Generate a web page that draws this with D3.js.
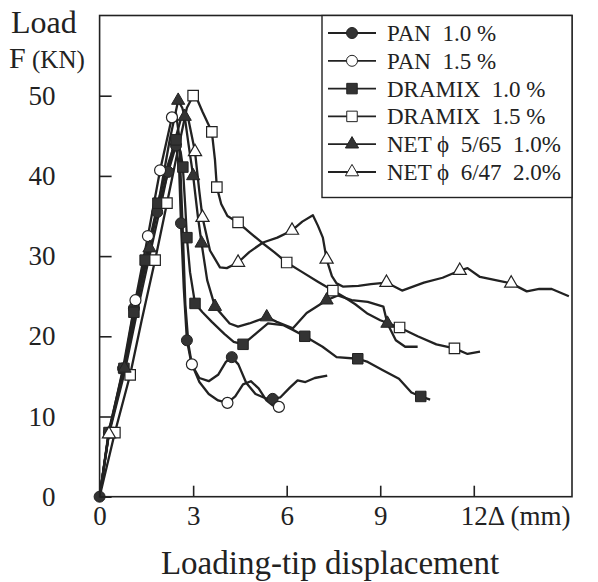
<!DOCTYPE html>
<html><head><meta charset="utf-8">
<script src="https://cdn.jsdelivr.net/npm/d3@7"></script>
<style>body{margin:0;background:#fff}svg text{font-family:"Liberation Serif","DejaVu Serif",serif;fill:#222;white-space:pre}</style>
</head><body><svg id="c" width="598" height="582"></svg>
<script>
const xTicks=[0,3,6,9,12];
const yTicks=[0,10,20,30,40,50];
const seriesNames=["PAN  1.0 %","PAN  1.5 %","DRAMIX  1.0 %","DRAMIX  1.5 %","NET ϕ  5/65  1.0%","NET ϕ  6/47  2.0%"];
const pan10=[[0,0],[0.3,8],[0.75,16],[1.1,23.5],[1.5,29.6],[1.85,35.5],[2.2,40.5],[2.45,43.8],[2.55,41],[2.61,34.1],[2.7,26],[2.8,19.5],[2.95,16.5],[3.2,14.8],[3.5,14.4],[3.8,15.2],[4.05,16.8],[4.24,17.4],[4.45,16.5],[4.7,14.2],[5.0,12.8],[5.3,12.3],[5.55,12.2],[5.8,12.4],[6.1,13.6],[6.35,14.5],[6.6,14.3],[6.9,14.8],[7.3,15.1]];
const pan10Marks=[[0,0],[0.3,8],[0.75,16],[1.1,23.5],[1.5,29.6],[1.85,35.5],[2.2,40.5],[2.45,43.8],[2.61,34.1],[2.8,19.5],[4.24,17.4],[5.55,12.2]];
const pan15=[[0,0],[0.3,8.3],[0.8,16.5],[1.15,24.5],[1.55,32.5],[1.94,40.7],[2.32,47.3],[2.45,47.8],[2.55,45],[2.65,35],[2.75,24],[2.85,19],[2.96,16.5],[3.2,14.3],[3.5,12.8],[3.8,12],[4.1,11.7],[4.35,12.5],[4.6,14],[4.85,14.4],[5.1,13.5],[5.35,12],[5.55,11.4],[5.75,11.2]];
const pan15Marks=[[1.15,24.5],[1.55,32.5],[1.94,40.7],[2.32,47.3],[2.96,16.5],[4.1,11.7],[5.75,11.2]];
const dramix10=[[0,0],[0.3,8],[0.78,16],[1.1,23],[1.46,29.5],[1.87,36.6],[2.2,41.5],[2.45,44.5],[2.6,43],[2.67,41.1],[2.75,36],[2.8,32.3],[2.9,28],[3.06,24.1],[3.3,23],[3.6,21.8],[4.0,20.3],[4.3,19.3],[4.6,19.0],[5.03,20.4],[5.4,21.6],[5.88,21.4],[6.2,20.8],[6.58,20.0],[7.15,18.7],[7.6,17.4],[8.28,17.2],[8.6,16.8],[9.07,15.8],[9.6,14.7],[10.0,13],[10.3,12.5],[10.6,12.1]];
const dramix10Marks=[[0.3,8],[0.78,16],[1.1,23],[1.46,29.5],[1.87,36.6],[2.45,44.5],[2.67,41.1],[2.8,32.3],[3.06,24.1],[4.6,19.0],[6.58,20.0],[8.28,17.2],[10.3,12.5]];
const dramix15=[[0,0],[0.49,8],[0.98,15.2],[1.35,22],[1.78,29.5],[2.16,36.6],[2.5,43],[2.8,48.5],[3.0,50],[3.1,49.8],[3.3,48],[3.6,45.5],[3.7,42],[3.76,38.6],[3.9,36.5],[4.1,35],[4.44,34.2],[4.8,33],[5.2,31.7],[5.6,30.5],[6.0,29.2],[6.5,28],[7.0,26.8],[7.48,25.7],[7.8,25],[8.2,24],[8.6,22.8],[9.0,22],[9.62,21.1],[10.2,20],[10.8,19],[11.38,18.5],[11.8,17.8],[12.2,18.1]];
const dramix15Marks=[[0.49,8],[0.98,15.2],[1.78,29.5],[2.16,36.6],[3.0,50],[3.6,45.5],[3.76,38.6],[4.44,34.2],[6.0,29.2],[7.48,25.7],[9.62,21.1],[11.38,18.5]];
const net565=[[0,0],[0.3,8],[0.8,16],[1.2,24],[1.6,31],[1.95,38],[2.25,44.5],[2.52,49.4],[2.65,48.5],[2.73,47.4],[2.85,44],[3.0,40],[3.15,35],[3.27,31.6],[3.45,27],[3.7,23.7],[4.17,21.6],[4.44,21.2],[4.8,21.6],[5.36,22.4],[5.68,21.8],[6.2,21],[6.64,22.9],[7.28,24.5],[7.64,25.1],[8.08,24.5],[8.6,24.3],[9.1,23.7],[9.23,21.6],[9.5,19.5],[9.8,18.7],[10.2,18.7]];
const net565Marks=[[0.8,16],[1.6,31],[2.52,49.4],[2.73,47.4],[3.0,40],[3.27,31.6],[3.7,23.7],[5.36,22.4],[7.28,24.5],[9.23,21.6]];
const net647=[[0,0],[0.3,7.8],[0.8,15.5],[1.2,23],[1.6,30],[2.0,37],[2.35,43.5],[2.6,47],[2.75,48],[2.85,47],[3.06,43],[3.2,38],[3.3,34.8],[3.54,30.7],[3.86,28.6],[4.08,28.5],[4.44,29.2],[4.8,30.5],[5.24,31.7],[5.7,32.3],[6.17,33.2],[6.5,34.3],[6.84,35.1],[7.0,33.8],[7.16,32.3],[7.28,29.6],[7.45,27.5],[7.6,26.6],[7.8,26.2],[8.3,26.3],[8.7,26.5],[9.2,26.7],[9.7,25.7],[10.4,26.7],[11.0,27.3],[11.55,28.2],[11.8,28.5],[12.2,27.4],[12.7,27],[13.2,26.6],[13.7,25.6],[14.1,25.9],[14.5,25.9],[15.05,25.0]];
const net647Marks=[[0.3,7.8],[3.06,43],[3.3,34.8],[4.44,29.2],[6.17,33.2],[7.28,29.6],[9.2,26.7],[11.55,28.2],[13.2,26.6]];

const series=[
 {pts:pan10,marks:pan10Marks,shape:"circle",fill:true},
 {pts:pan15,marks:pan15Marks,shape:"circle",fill:false},
 {pts:dramix10,marks:dramix10Marks,shape:"square",fill:true},
 {pts:dramix15,marks:dramix15Marks,shape:"square",fill:false},
 {pts:net565,marks:net565Marks,shape:"triangle",fill:true},
 {pts:net647,marks:net647Marks,shape:"triangle",fill:false}
];
const svg=d3.select("#c");
const L=99.6,R=572,T=15.5,B=496.7;
const x=d3.scaleLinear([0,15.15],[L,R]);
const y=d3.scaleLinear([0,60],[B,T]);
const ink="#222";

function sym(shape){
  const m={circle:d3.symbolCircle,square:d3.symbolSquare,triangle:d3.symbolTriangle};
  const s={circle:95,square:110,triangle:75};
  return d3.symbol(m[shape],s[shape])();
}
const line=d3.line().x(d=>x(d[0])).y(d=>y(d[1])).curve(d3.curveLinear);
series.forEach(s=>{
  svg.append("path").attr("d",line(s.pts)).attr("fill","none").attr("stroke",ink).attr("stroke-width",2.3).attr("stroke-linejoin","round");
});
series.forEach(s=>{
  svg.append("g").selectAll("path").data(s.marks).join("path")
   .attr("d",sym(s.shape)).attr("transform",d=>`translate(${x(d[0])},${y(d[1])})`)
   .attr("fill",s.fill?"#333":"#fff").attr("stroke",ink).attr("stroke-width",s.fill?1:1.2);
});
svg.append("rect").attr("x",L).attr("y",T).attr("width",R-L).attr("height",B-T).attr("fill","none").attr("stroke",ink).attr("stroke-width",1.6);
const ya=d3.axisLeft(y).tickValues(yTicks).tickSizeInner(-12).tickSizeOuter(0).tickPadding(44).tickFormat(d3.format("d"));
const gy=svg.append("g").attr("transform",`translate(${L},0)`).call(ya);
const xa=d3.axisBottom(x).tickValues(xTicks).tickSizeInner(-11).tickSizeOuter(0).tickPadding(9).tickFormat(d3.format("d"));
const gx=svg.append("g").attr("transform",`translate(0,${B})`).call(xa);
[gx,gy].forEach(g=>{g.select(".domain").remove();g.selectAll(".tick line").attr("stroke",ink).attr("stroke-width",1.6);
 g.selectAll(".tick text").attr("font-size",27).attr("fill",ink).style("font-family","Liberation Serif");});
svg.append("text").attr("x",x(12)+14).attr("y",B+28).attr("font-size",27).text("Δ (mm)");
svg.append("text").attr("x",330).attr("y",574).attr("font-size",33).attr("text-anchor","middle").text("Loading-tip displacement");
svg.append("text").attr("x",11).attr("y",33).attr("font-size",32).text("Load");
svg.append("text").attr("x",9).attr("y",68).attr("font-size",30).text("F");
svg.append("text").attr("x",32).attr("y",68).attr("font-size",25).text("(KN)");
const lg=svg.append("g");
lg.append("rect").attr("x",322).attr("y",T).attr("width",R-322).attr("height",182).attr("fill","#fff").attr("stroke",ink).attr("stroke-width",1.4);
series.forEach((s,i)=>{
  const cy=33+i*27.8;
  lg.append("line").attr("x1",328).attr("x2",376).attr("y1",cy).attr("y2",cy).attr("stroke",ink).attr("stroke-width",1.8);
  lg.append("path").attr("d",sym(s.shape)).attr("transform",`translate(352,${cy})`).attr("fill",s.fill?"#333":"#fff").attr("stroke",ink).attr("stroke-width",1);
  lg.append("text").attr("x",387).attr("y",cy+8).attr("font-size",23).text(seriesNames[i]);
});
</script></body></html>
